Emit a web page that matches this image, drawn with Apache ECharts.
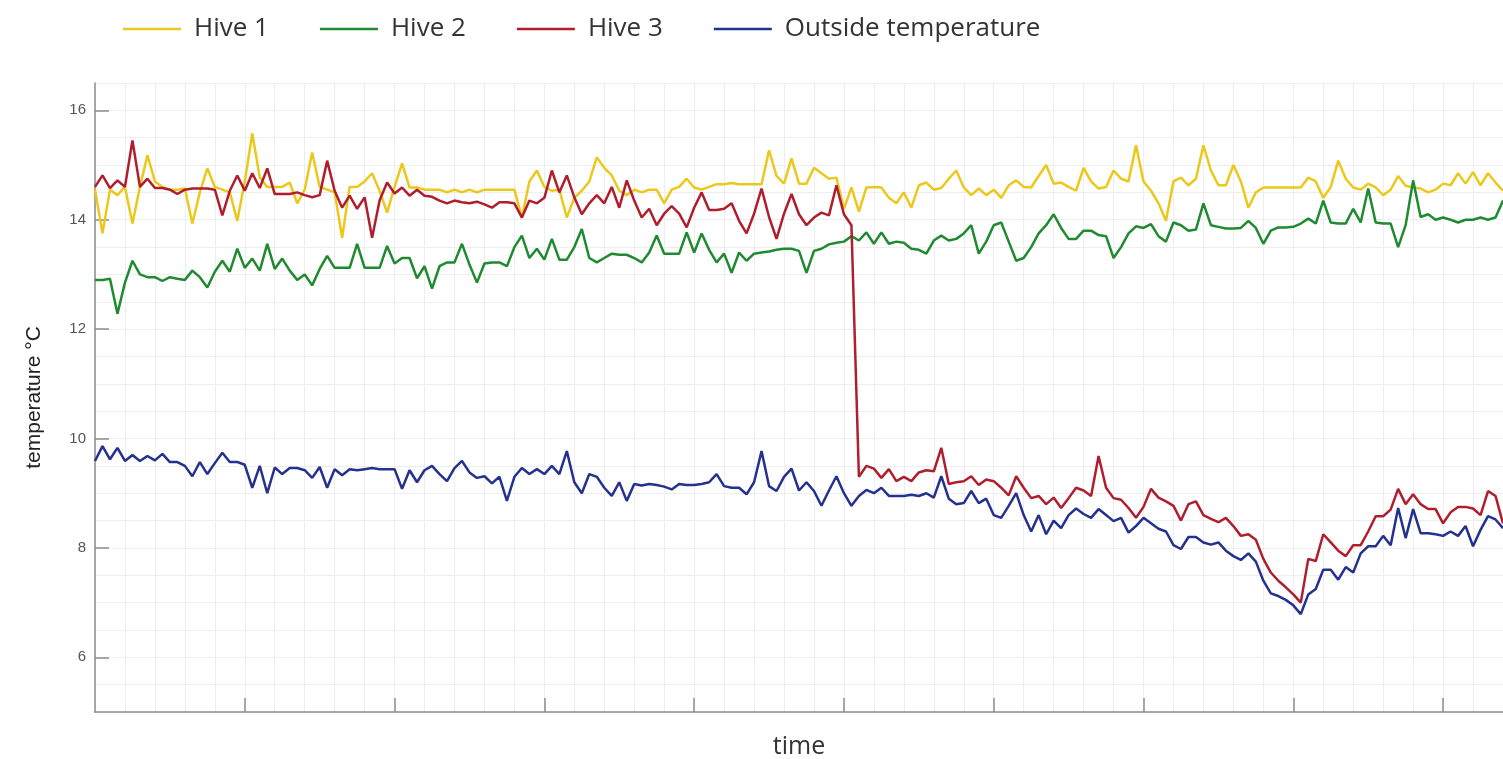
<!DOCTYPE html>
<html>
<head>
<meta charset="utf-8">
<script src="https://cdn.jsdelivr.net/npm/echarts@6/dist/echarts.min.js"></script>
<style>
  html, body { margin: 0; padding: 0; background: #fff; }
  #chart { width: 1503px; height: 759px; }
</style>
</head>
<body>
<div id="chart"></div>
<script>
  // readings, one sample every ~7.5 px of the original time axis
  var hive1 = [
    14.55, 13.75, 14.55, 14.45, 14.6, 13.93, 14.6, 15.18, 14.7, 14.6,
    14.55, 14.55, 14.57, 13.93, 14.5, 14.94, 14.6, 14.55, 14.5, 13.98,
    14.7, 15.58, 14.77, 14.6, 14.6, 14.6, 14.68, 14.3, 14.55, 15.23,
    14.6, 14.55, 14.5, 13.67, 14.6, 14.6, 14.7, 14.85, 14.53, 14.13,
    14.6, 15.03, 14.59, 14.59, 14.55, 14.55, 14.55, 14.5, 14.55, 14.5,
    14.55, 14.5, 14.55, 14.55, 14.55, 14.55, 14.55, 14.04, 14.7, 14.9,
    14.6, 14.53, 14.55, 14.04, 14.4, 14.53, 14.7, 15.14, 14.95, 14.81,
    14.53, 14.45, 14.55, 14.5, 14.55, 14.55, 14.3, 14.55, 14.6, 14.75,
    14.59, 14.55, 14.6, 14.65, 14.65, 14.67, 14.65, 14.65, 14.65, 14.65,
    15.27, 14.8, 14.66, 15.12, 14.66, 14.66, 14.95, 14.85, 14.75, 14.77,
    14.2, 14.59, 14.15, 14.59, 14.6, 14.59, 14.4, 14.3, 14.5, 14.22,
    14.63, 14.68, 14.55, 14.58, 14.75, 14.9, 14.59, 14.45, 14.57, 14.45,
    14.55, 14.4, 14.63, 14.72, 14.6, 14.59, 14.8, 15.0, 14.66, 14.68,
    14.6, 14.53, 14.95, 14.7, 14.57, 14.6, 14.9, 14.75, 14.7, 15.36,
    14.7, 14.53, 14.3, 13.98, 14.7, 14.77, 14.63, 14.75, 15.36, 14.9,
    14.63, 14.63, 15.0, 14.7, 14.22, 14.5, 14.59, 14.59, 14.59, 14.59,
    14.59, 14.59, 14.77, 14.7, 14.4, 14.6, 15.08, 14.75, 14.59, 14.55,
    14.66, 14.59, 14.45, 14.55, 14.8, 14.62, 14.59, 14.57, 14.5, 14.55,
    14.66, 14.63, 14.85, 14.66, 14.87, 14.63, 14.85, 14.68, 14.53
  ];
  var hive2 = [
    12.9, 12.9, 12.92, 12.28, 12.85, 13.25, 13.0, 12.95, 12.95, 12.88,
    12.95, 12.92, 12.9, 13.07, 12.95, 12.76, 13.05, 13.25, 13.05, 13.47,
    13.12, 13.29, 13.07, 13.56, 13.1, 13.29, 13.07, 12.9, 13.0, 12.8,
    13.1, 13.34, 13.12, 13.12, 13.12, 13.56, 13.12, 13.12, 13.12, 13.52,
    13.2, 13.3, 13.3, 12.93, 13.15, 12.74, 13.15, 13.22, 13.22, 13.56,
    13.18, 12.85, 13.2, 13.22, 13.22, 13.15, 13.5, 13.71, 13.3, 13.47,
    13.27, 13.65, 13.27, 13.27, 13.5, 13.83, 13.3, 13.22, 13.3, 13.38,
    13.36, 13.36, 13.3, 13.22, 13.4, 13.71, 13.38, 13.38, 13.38, 13.77,
    13.4, 13.75, 13.45, 13.22, 13.38, 13.03, 13.4, 13.25, 13.38, 13.4,
    13.42, 13.45, 13.47, 13.47, 13.43, 13.03, 13.43, 13.47, 13.55, 13.58,
    13.6, 13.7, 13.62, 13.77, 13.56, 13.77, 13.56, 13.6, 13.58, 13.47,
    13.45, 13.38, 13.62, 13.71, 13.62, 13.65, 13.75, 13.9, 13.38, 13.6,
    13.9, 13.95, 13.6, 13.25, 13.3, 13.5, 13.75, 13.9, 14.1, 13.85,
    13.65, 13.65, 13.8, 13.8, 13.72, 13.7, 13.3, 13.5, 13.75, 13.88,
    13.85, 13.92, 13.7, 13.6, 13.95, 13.9, 13.8, 13.82, 14.3, 13.9,
    13.87, 13.84, 13.84, 13.85, 13.98, 13.85, 13.56, 13.8, 13.86, 13.86,
    13.87, 13.93, 14.02, 13.93, 14.35, 13.95, 13.93, 13.93, 14.2, 13.95,
    14.57, 13.95, 13.93, 13.93, 13.5, 13.9, 14.72, 14.05, 14.1, 14.0,
    14.04, 14.0, 13.95, 14.0, 14.0, 14.04, 14.0, 14.04, 14.35
  ];
  var hive3 = [
    14.6, 14.81, 14.58, 14.72, 14.6, 15.45, 14.6, 14.75, 14.58, 14.58,
    14.55, 14.47, 14.55, 14.57, 14.57, 14.57, 14.55, 14.08, 14.53, 14.81,
    14.53, 14.85, 14.58, 14.94, 14.47, 14.47, 14.47, 14.5, 14.45, 14.41,
    14.45, 15.08, 14.53, 14.22, 14.44, 14.2, 14.41, 13.67, 14.35, 14.68,
    14.48, 14.59, 14.44, 14.55, 14.44, 14.42, 14.35, 14.3, 14.35, 14.32,
    14.3, 14.33, 14.28, 14.22, 14.32, 14.32, 14.3, 14.04, 14.35, 14.3,
    14.4, 14.9, 14.5, 14.81, 14.41, 14.1, 14.3, 14.45, 14.3, 14.6,
    14.22, 14.72, 14.35, 14.04, 14.2, 13.9, 14.11, 14.25, 14.11, 13.86,
    14.22, 14.5, 14.18, 14.18, 14.2, 14.3, 13.98, 13.75, 14.11, 14.57,
    14.05, 13.65, 14.11, 14.47, 14.1, 13.9, 14.04, 14.13, 14.08, 14.63,
    14.1, 13.9, 9.3, 9.5, 9.45, 9.28, 9.44, 9.22, 9.3, 9.22,
    9.38, 9.42, 9.4, 9.83, 9.17, 9.2, 9.22, 9.31, 9.15, 9.25,
    9.22, 9.1, 8.96, 9.31, 9.1, 8.91, 8.95, 8.8, 8.92, 8.73,
    8.91, 9.1, 9.05, 8.95, 9.68, 9.1, 8.91, 8.88, 8.73, 8.55,
    8.75, 9.08, 8.92, 8.85, 8.77, 8.5, 8.8, 8.85, 8.6, 8.53,
    8.47, 8.55, 8.4, 8.22, 8.25, 8.15, 7.8, 7.55, 7.4, 7.28,
    7.15, 7.0, 7.8, 7.76, 8.25, 8.1, 7.95, 7.85, 8.05, 8.05,
    8.3, 8.58, 8.58, 8.7, 9.08, 8.8, 8.98, 8.8, 8.71, 8.71,
    8.45, 8.65, 8.75, 8.75, 8.72, 8.6, 9.04, 8.95, 8.45
  ];
  var outside = [
    9.59, 9.86, 9.62, 9.83, 9.59, 9.7, 9.59, 9.68, 9.6, 9.72,
    9.57, 9.57, 9.5, 9.31, 9.57, 9.35, 9.55, 9.74, 9.57, 9.57,
    9.52, 9.1, 9.5, 9.0, 9.47, 9.35, 9.46, 9.46, 9.42, 9.28,
    9.48, 9.1, 9.44, 9.33, 9.44, 9.42, 9.44, 9.46, 9.44, 9.44,
    9.44, 9.08, 9.42, 9.2, 9.42, 9.5, 9.35, 9.22, 9.46, 9.59,
    9.38, 9.28, 9.31, 9.18, 9.3, 8.86, 9.3, 9.46, 9.35, 9.44,
    9.35, 9.5, 9.35, 9.77, 9.2, 9.0, 9.35, 9.3, 9.1, 8.95,
    9.2, 8.86, 9.17, 9.14, 9.17, 9.15, 9.12, 9.07, 9.17, 9.15,
    9.15, 9.17, 9.2, 9.35, 9.13, 9.1, 9.1, 8.98, 9.2, 9.77,
    9.13, 9.04, 9.3, 9.45, 9.05, 9.2, 9.04, 8.77, 9.05, 9.31,
    9.0, 8.77, 8.95, 9.06, 9.0, 9.1, 8.95, 8.95, 8.95, 8.97,
    8.95, 9.0, 8.92, 9.31, 8.9, 8.8, 8.82, 9.04, 8.82, 8.9,
    8.6, 8.55, 8.77, 9.0, 8.6, 8.3, 8.6, 8.25, 8.5, 8.36,
    8.6, 8.72, 8.62, 8.55, 8.71, 8.6, 8.49, 8.55, 8.28, 8.4,
    8.55, 8.45, 8.35, 8.3, 8.05, 7.98, 8.2, 8.2, 8.1, 8.06,
    8.1, 7.95, 7.85, 7.78, 7.9, 7.75, 7.4, 7.17, 7.12, 7.05,
    6.95, 6.79, 7.15, 7.25, 7.6, 7.6, 7.42, 7.65, 7.55, 7.9,
    8.03, 8.03, 8.22, 8.05, 8.73, 8.18, 8.71, 8.27, 8.27, 8.25,
    8.22, 8.3, 8.22, 8.4, 8.03, 8.33, 8.58, 8.52, 8.36
  ];

  var seriesNames = ['Hive 1', 'Hive 2', 'Hive 3', 'Outside temperature'];
  var yTickValues = [6, 8, 10, 12, 14, 16];
  var xTickValues = [20, 40, 60, 80, 100, 120, 140, 160, 180];

  // sample number along the time axis
  var sampleIndex = hive1.map(function (v, i) { return i; });

  function toPairs(values) {
    return values.map(function (v, i) { return [sampleIndex[i], v]; });
  }

  var chart = echarts.init(document.getElementById('chart'));

  var axisGray = '#8c8c8c';
  var gridGray = '#eeeeee';
  var xRange = { min: 0, max: 188 };
  var yRange = { min: 5, max: 16.5 };

  var option = {
    animation: false,
    color: ['#ecc81c', '#1f8a30', '#b01e2e', '#24318e'],
    legend: {
      left: 118,
      top: 11,
      icon: 'rect',
      itemWidth: 58,
      itemHeight: 2.5,
      itemGap: 51,
      selectedMode: false,
      textStyle: {
        fontFamily: 'Open Sans',
        fontSize: 26,
        color: '#333',
        padding: [0, 0, 0, 8]
      },
      data: seriesNames
    },
    grid: {
      left: 95,
      right: 0,
      top: 83,
      bottom: 47,
      outerBoundsMode: 'none'
    },
    xAxis: [
      {
        // minor grid only
        type: 'value',
        min: xRange.min,
        max: xRange.max,
        interval: 4,
        axisLine: { show: false },
        axisTick: { show: false },
        axisLabel: { show: false },
        splitLine: { show: true, lineStyle: { color: gridGray, width: 1 } }
      },
      {
        type: 'value',
        min: xRange.min,
        max: xRange.max,
        position: 'bottom',
        name: 'time',
        nameLocation: 'middle',
        nameGap: 22,
        nameTextStyle: { fontFamily: 'Open Sans', fontSize: 25, color: '#333' },
        axisLine: { show: true, lineStyle: { color: axisGray, width: 1.5 } },
        axisTick: {
          show: true,
          inside: true,
          length: 14,
          customValues: xTickValues,
          lineStyle: { color: axisGray, width: 1.5 }
        },
        axisLabel: { show: false },
        splitLine: { show: false }
      }
    ],
    yAxis: [
      {
        type: 'value',
        min: yRange.min,
        max: yRange.max,
        interval: 0.5,
        axisLine: { show: false },
        axisTick: { show: false },
        axisLabel: { show: false },
        splitLine: { show: true, lineStyle: { color: gridGray, width: 1 } }
      },
      {
        type: 'value',
        min: yRange.min,
        max: yRange.max,
        position: 'left',
        name: 'temperature °C',
        nameLocation: 'middle',
        nameGap: 50,
        nameTextStyle: { fontFamily: 'Liberation Sans', fontSize: 21, color: '#222' },
        axisLine: { show: true, lineStyle: { color: axisGray, width: 1.5 } },
        axisTick: {
          show: true,
          inside: true,
          length: 14,
          customValues: yTickValues,
          lineStyle: { color: axisGray, width: 1.5 }
        },
        axisLabel: {
          customValues: yTickValues,
          margin: 9,
          fontFamily: 'Liberation Sans',
          fontSize: 15,
          color: '#555'
        },
        splitLine: { show: false }
      }
    ],
    series: [
      { name: seriesNames[0], type: 'line', data: toPairs(hive1) },
      { name: seriesNames[1], type: 'line', data: toPairs(hive2) },
      { name: seriesNames[2], type: 'line', data: toPairs(hive3) },
      { name: seriesNames[3], type: 'line', data: toPairs(outside) }
    ].map(function (s) {
      s.xAxisIndex = 1;
      s.yAxisIndex = 1;
      s.symbol = 'none';
      s.lineStyle = { width: 2.5 };
      return s;
    })
  };

  chart.setOption(option);
</script>
</body>
</html>
